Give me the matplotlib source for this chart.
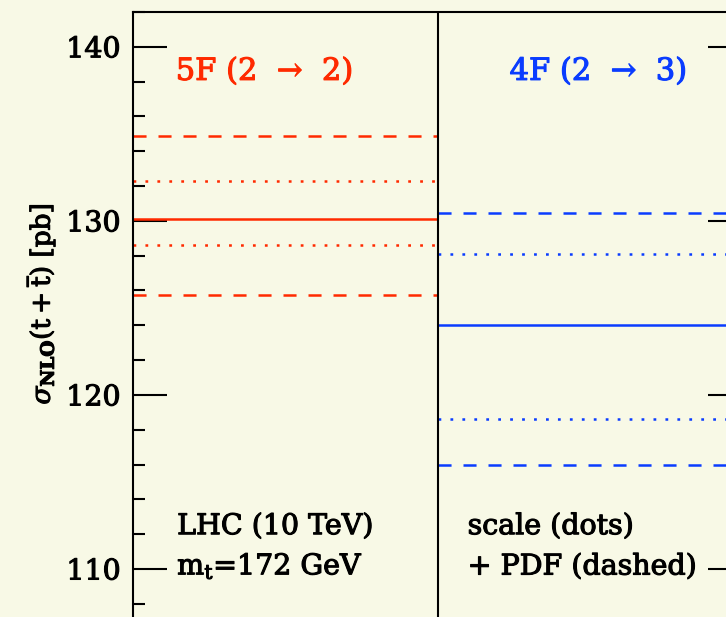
import numpy as np
import matplotlib
matplotlib.use("Agg")
import matplotlib.pyplot as plt
import matplotlib.patheffects as pe
from matplotlib.ticker import MultipleLocator

# cross sections in pb
schemes = ['5F (2  \u2192  2)', '4F (2  \u2192  3)']
central = [130.1, 124.0]
scale_band = [(132.3, 128.6), (128.1, 118.6)]   # dotted
pdf_band = [(134.85, 125.75), (130.45, 115.95)]  # dashed
colors = ['#ff2a00', '#0a3cff']
yticks = [110, 120, 130, 140]

plt.rcParams['lines.scale_dashes'] = False
plt.rcParams['mathtext.fontset'] = 'dejavuserif'


def heavy(c='black'):
    # the original lettering is a bit darker than DejaVu Serif regular
    return [pe.withStroke(linewidth=0.8, foreground=c)]


bg = '#f8f9e6'
fig = plt.figure(figsize=(7.26, 6.17), dpi=100, facecolor=bg)
ax = fig.add_axes([133/726, -39/617, 609/726, 644/617])
ax.set_facecolor(bg)
ax.set_xlim(0, 2)
ax.set_ylim(105, 142)

for i, c in enumerate(colors):
    x0, x1 = i, i + 1
    ax.plot([x0, x1], [central[i]] * 2, color=c, lw=1.8, solid_capstyle='butt')
    for v in scale_band[i]:
        ax.plot([x0, x1], [v, v], color=c, lw=1.8, dashes=(2.0, 6.6))
    for v in pdf_band[i]:
        ax.plot([x0, x1], [v, v], color=c, lw=1.8, dashes=(9.4, 8.6))

ax.axvline(1, color='black', lw=1.5)

txt = dict(family='DejaVu Serif', fontsize=20.5, path_effects=heavy())
ax.text(0.432, 138.1, schemes[0], color=colors[0], ha='center', va='baseline',
        family='DejaVu Serif', fontsize=22, path_effects=heavy(colors[0]))
ax.text(1.528, 138.1, schemes[1], color=colors[1], ha='center', va='baseline',
        family='DejaVu Serif', fontsize=22, path_effects=heavy(colors[1]))
ax.text(0.145, 112.0, 'LHC (10 TeV)', ha='left', va='baseline', **txt)
ax.text(0.145, 109.68, r'm$_\mathrm{t}$=172 GeV', ha='left', va='baseline', **txt)
ax.text(1.099, 112.0, 'scale (dots)', ha='left', va='baseline', **txt)
ax.text(1.099, 109.68, '+ PDF (dashed)', ha='left', va='baseline', **txt)

fig.text(40/726, 1 - 304/617, r'$\sigma_{\mathbf{NLO}}(\mathrm{t+\overline{t}})$ [pb]',
         rotation=90, ha='center', va='center', family='DejaVu Serif',
         fontsize=19, path_effects=heavy())

ax.set_yticks(yticks)
ax.yaxis.set_minor_locator(MultipleLocator(2))
ax.set_xticks([])
ax.tick_params(axis='y', which='major', direction='in', length=24.5, width=1.5,
               right=True, labelsize=20.5, pad=9)
ax.tick_params(axis='y', which='minor', direction='in', length=8.5, width=1.5, right=True)
for lab in ax.get_yticklabels():
    lab.set_family('DejaVu Serif')
    lab.set_path_effects(heavy())
for s in ax.spines.values():
    s.set_linewidth(1.5)

fig.savefig('out.png', dpi=100, facecolor=bg)
